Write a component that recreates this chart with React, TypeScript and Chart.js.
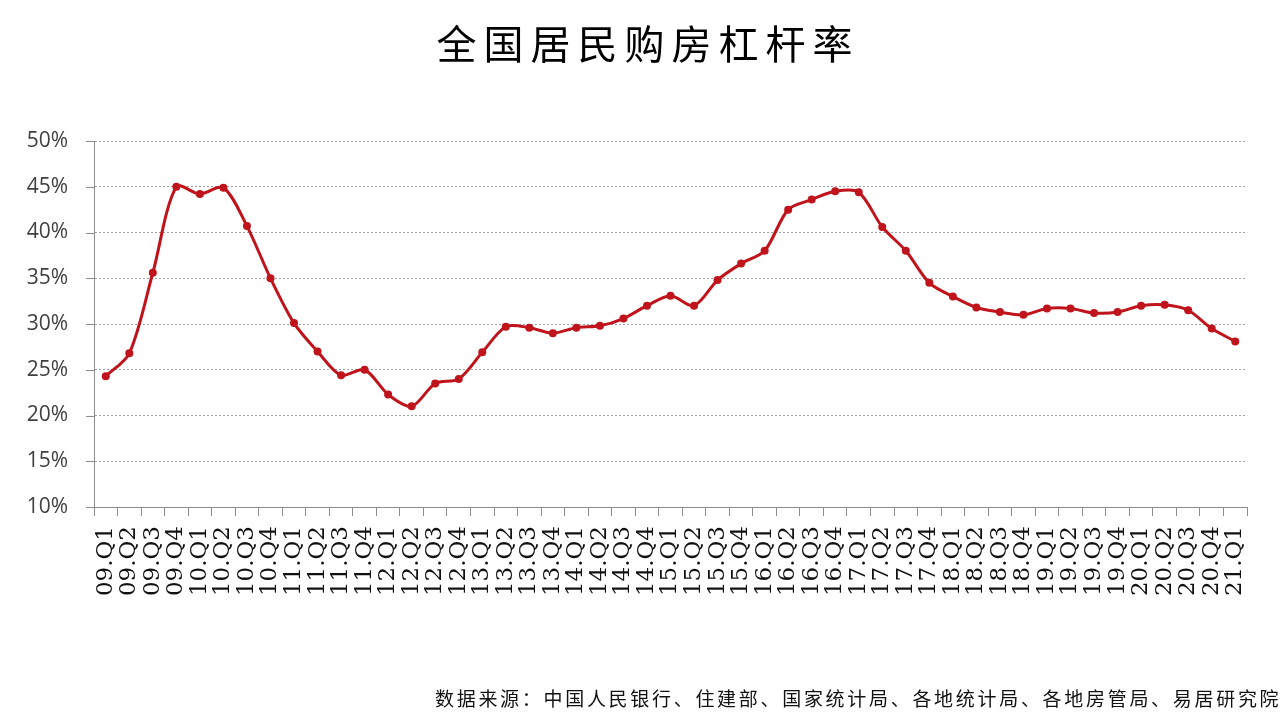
import React, { useEffect, useRef } from 'react';
import { Chart, registerables } from 'chart.js';

Chart.register(...registerables);

const categories = [
  '09.Q1', '09.Q2', '09.Q3', '09.Q4',
  '10.Q1', '10.Q2', '10.Q3', '10.Q4',
  '11.Q1', '11.Q2', '11.Q3', '11.Q4',
  '12.Q1', '12.Q2', '12.Q3', '12.Q4',
  '13.Q1', '13.Q2', '13.Q3', '13.Q4',
  '14.Q1', '14.Q2', '14.Q3', '14.Q4',
  '15.Q1', '15.Q2', '15.Q3', '15.Q4',
  '16.Q1', '16.Q2', '16.Q3', '16.Q4',
  '17.Q1', '17.Q2', '17.Q3', '17.Q4',
  '18.Q1', '18.Q2', '18.Q3', '18.Q4',
  '19.Q1', '19.Q2', '19.Q3', '19.Q4',
  '20.Q1', '20.Q2', '20.Q3', '20.Q4',
  '21.Q1',
];

const leverage = [
  24.3, 26.8, 35.6, 45.0,
  44.2, 44.9, 40.7, 35.0,
  30.1, 27.0, 24.4, 25.0,
  22.3, 21.0, 23.5, 24.0,
  26.9, 29.7, 29.6, 29.0,
  29.6, 29.8, 30.6, 32.0,
  33.1, 32.0, 34.8, 36.6,
  38.0, 42.5, 43.6, 44.5,
  44.4, 40.6, 38.0, 34.5,
  33.0, 31.8, 31.3, 31.0,
  31.7, 31.7, 31.2, 31.3,
  32.0, 32.1, 31.5, 29.5,
  28.1,
];

const yMin = 10;
const yMax = 50;
const yStep = 5;

const titleText = '全国居民购房杠杆率';
const sourceText = '数据来源：中国人民银行、住建部、国家统计局、各地统计局、各地房管局、易居研究院';

const lineColor = '#c0141c';
const axisColor = '#8c8c8c';

const yTickMarks = {
  id: 'yTickMarks',
  beforeDatasetsDraw(chart: any) {
    const s = chart.scales.y;
    const ctx = chart.ctx;
    ctx.save();
    ctx.strokeStyle = axisColor;
    ctx.lineWidth = 1;
    s.ticks.forEach((t: any) => {
      const y = Math.round(s.getPixelForValue(t.value)) + 0.5;
      ctx.beginPath();
      ctx.moveTo(s.right - 8, y);
      ctx.lineTo(s.right, y);
      ctx.stroke();
    });
    ctx.restore();
  },
};

export default function App() {
  const ref = useRef<HTMLCanvasElement>(null);

  useEffect(() => {
    const canvas = ref.current;
    if (!canvas) return;
    const chart = new Chart(canvas, {
      type: 'line',
      data: {
        labels: categories,
        datasets: [
          {
            data: leverage,
            borderColor: lineColor,
            backgroundColor: lineColor,
            borderWidth: 3,
            pointRadius: 4,
            pointBackgroundColor: lineColor,
            pointBorderColor: lineColor,
            pointBorderWidth: 0,
            tension: 0.3,
            fill: false,
          },
        ],
      },
      options: {
        responsive: false,
        animation: false,
        layout: { padding: { top: 141, left: 0, right: 35, bottom: 0 } },
        plugins: {
          legend: { display: false },
          tooltip: { enabled: false },
          title: { display: false },
        },
        scales: {
          x: {
            type: 'category',
            offset: true,
            grid: {
              offset: true,
              drawOnChartArea: false,
              drawTicks: true,
              tickLength: 9,
              color: axisColor,
              lineWidth: 1,
            },
            border: { display: true, color: axisColor, width: 1 },
            ticks: {
              autoSkip: false,
              maxRotation: 90,
              minRotation: 90,
              padding: 10,
              color: '#111111',
              font: { family: 'DejaVu Serif', size: 23 },
            },
            afterFit: (s: any) => {
              s.height = 215;
            },
          },
          y: {
            min: yMin,
            max: yMax,
            ticks: {
              stepSize: yStep,
              padding: 26,
              color: '#404040',
              font: { family: 'Open Sans', size: 21 },
              callback: (v: any) => v + '%',
            },
            grid: {
              color: '#a0a0a0',
              lineWidth: 1,
              drawTicks: false,
            },
            border: { display: true, color: axisColor, width: 1, dash: [2, 2] },
            afterFit: (s: any) => {
              s.width = 94;
            },
          },
        },
      },
      plugins: [yTickMarks],
    });
    return () => chart.destroy();
  }, []);

  return (
    <div
      style={{
        position: 'absolute',
        left: 0,
        top: 0,
        width: 1282,
        height: 722,
        background: '#ffffff',
        overflow: 'hidden',
      }}
    >
      <canvas
        ref={ref}
        width={1282}
        height={722}
        style={{ position: 'absolute', left: 0, top: 0, width: 1282, height: 722 }}
      />
      <div
        style={{
          position: 'absolute',
          left: 0,
          top: 18,
          width: 1282,
          textAlign: 'center',
          fontFamily: '"Noto Sans CJK SC", sans-serif',
          fontWeight: 400,
          fontSize: 40,
          lineHeight: '48px',
          letterSpacing: 7,
          paddingLeft: 7,
          color: '#000',
          whiteSpace: 'nowrap',
        }}
      >
        {titleText}
      </div>
      <div
        style={{
          position: 'absolute',
          left: 435,
          top: 686,
          fontFamily: '"Noto Sans CJK SC", sans-serif',
          fontSize: 19,
          lineHeight: '24px',
          letterSpacing: 2.7,
          color: '#111',
          whiteSpace: 'nowrap',
        }}
      >
        {sourceText}
      </div>
    </div>
  );
}
